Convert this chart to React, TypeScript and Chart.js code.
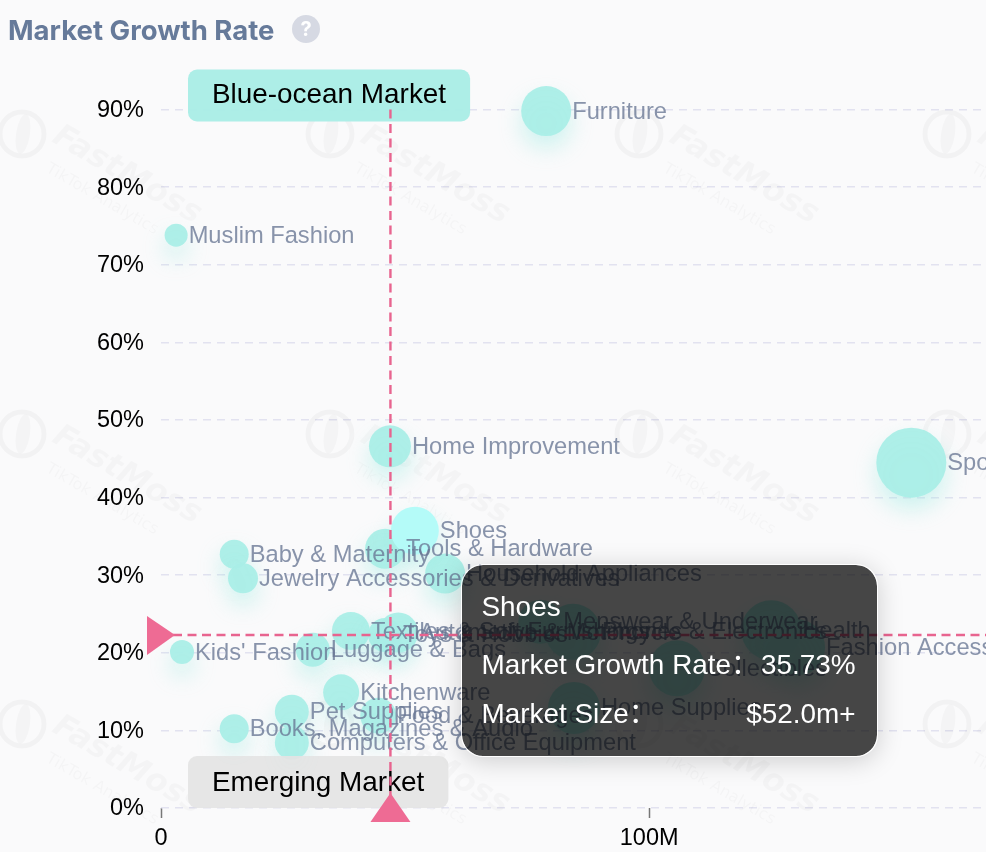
import React, { useEffect, useRef } from 'react';
import { Chart, registerables } from 'chart.js';

Chart.register(...registerables);

const categories = [
  'Furniture', 'Muslim Fashion', 'Home Improvement', 'Sports & Outdoor', 'Baby & Maternity',
  'Tools & Hardware', 'Jewelry Accessories & Derivatives', 'Household Appliances',
  'Menswear & Underwear', 'Phones & Electronics', 'Health', 'Textiles & Soft Furnishings',
  'Toys & Hobbies', 'Automotive & Motorcycle', 'Fashion Accessories', 'Luggage & Bags',
  "Kids' Fashion", 'Collectibles', 'Kitchenware', 'Pet Supplies', 'Food & Beverages',
  'Home Supplies', 'Books, Magazines & Audio', 'Computers & Office Equipment', 'Shoes',
];
const marketSize = [
  78.9, 3.1, 46.9, 153.7, 15.0, 45.9, 16.8, 58.2, 77.7, 84.4, 125.0, 38.9, 45.9, 48.6, 130.3,
  31.1, 4.3, 105.7, 36.9, 26.8, 44.5, 84.6, 15.0, 26.8, 52.0,
];
const growthRate = [
  89.8, 73.8, 46.6, 44.5, 32.7, 33.4, 29.6, 30.2, 24.0, 22.7, 22.9, 22.8, 22.3, 22.6, 20.7,
  20.4, 20.1, 18.0, 14.9, 12.4, 11.9, 12.9, 10.2, 8.4, 35.73,
];
const bubbleSize = [
  25, 11.5, 21, 35, 14.5, 20, 15, 20, 22, 28, 30, 19, 17, 20, 28, 17, 12, 28, 18, 17, 18, 26,
  14.5, 17, 24,
];

const medianSize = 47;
const medianGrowth = 22.3;
const activeName = 'Shoes';
const FONT = '"Liberation Sans", Arial, sans-serif';

const roundRect = (ctx: CanvasRenderingContext2D, x: number, y: number, w: number, h: number, r: number) => {
  ctx.beginPath();
  ctx.roundRect(x, y, w, h, r);
  ctx.fill();
};

const watermark = {
  id: 'watermark',
  beforeDatasetsDraw(chart: Chart) {
    const { ctx } = chart;
    ctx.save();
    for (const top of [108, 408, 698]) {
      for (const left of [0, 308, 617, 925]) {
        ctx.save();
        ctx.translate(left, top);
        ctx.strokeStyle = 'rgba(0,0,0,0.03)';
        ctx.fillStyle = 'rgba(0,0,0,0.025)';
        ctx.lineWidth = 5;
        ctx.beginPath();
        ctx.arc(22, 26, 22, 0, Math.PI * 2);
        ctx.stroke();
        ctx.beginPath();
        ctx.ellipse(23, 26, 7, 20, 0.15, 0, Math.PI * 2);
        ctx.fill();
        ctx.translate(55, 26);
        ctx.rotate((30 * Math.PI) / 180);
        ctx.font = `italic bold 32px "DejaVu Sans", sans-serif`;
        ctx.textBaseline = 'middle';
        ctx.textAlign = 'left';
        ctx.fillText('FastMoss', 0, 0);
        ctx.font = `16px "DejaVu Sans", sans-serif`;
        ctx.fillText('TikTok Analytics', 10, 33);
        ctx.restore();
      }
    }
    ctx.restore();
  },
};

const bubbleGlow = {
  id: 'bubbleGlow',
  beforeDatasetsDraw(chart: Chart) {
    const { ctx } = chart;
    ctx.save();
    ctx.shadowColor = 'rgba(150,235,225,0.45)';
    ctx.shadowBlur = 22;
    ctx.shadowOffsetY = 12;
  },
  afterDatasetsDraw(chart: Chart) {
    chart.ctx.restore();
  },
};

const overlays = {
  id: 'overlays',
  afterDatasetsDraw(chart: Chart) {
    const { ctx, scales, chartArea } = chart;
    const mx = scales.x.getPixelForValue(medianSize);
    const my = scales.y.getPixelForValue(medianGrowth);

    ctx.save();
    // quadrant tags
    ctx.font = `27.9px ${FONT}`;
    ctx.textBaseline = 'middle';
    ctx.textAlign = 'left';
    const tagLeft = chartArea.left + 27;
    const topTag = 'Blue-ocean Market';
    const bottomTag = 'Emerging Market';
    ctx.fillStyle = 'rgba(170,237,230,0.96)';
    roundRect(ctx, tagLeft, chartArea.top - 40, ctx.measureText(topTag).width + 48, 52, 9);
    ctx.fillStyle = 'rgba(228,228,228,0.92)';
    roundRect(ctx, tagLeft, chartArea.bottom - 52, ctx.measureText(bottomTag).width + 48, 52, 9);
    ctx.fillStyle = '#000';
    ctx.fillText(topTag, tagLeft + 24, chartArea.top - 14);
    ctx.fillText(bottomTag, tagLeft + 24, chartArea.bottom - 25);

    // point labels
    const meta = chart.getDatasetMeta(0);
    ctx.font = `23.7px ${FONT}`;
    ctx.fillStyle = 'rgba(104,118,148,0.78)';
    meta.data.forEach((el: any, i: number) => {
      ctx.fillText(categories[i], el.x + bubbleSize[i] + 1, el.y + 1);
    });

    // median cross
    ctx.strokeStyle = '#e8648f';
    ctx.lineWidth = 2.4;
    ctx.setLineDash([9, 5.5]);
    ctx.beginPath();
    ctx.moveTo(mx, chartArea.top);
    ctx.lineTo(mx, chartArea.bottom - 10);
    ctx.moveTo(chartArea.left + 12, my);
    ctx.lineTo(chartArea.right, my);
    ctx.stroke();
    ctx.setLineDash([]);

    ctx.fillStyle = '#ee6b94';
    ctx.beginPath();
    ctx.moveTo(chartArea.left - 14, my - 19);
    ctx.lineTo(chartArea.left + 14, my);
    ctx.lineTo(chartArea.left - 14, my + 20);
    ctx.closePath();
    ctx.fill();
    ctx.beginPath();
    ctx.moveTo(mx, chartArea.bottom - 15);
    ctx.lineTo(mx + 20, chartArea.bottom + 14);
    ctx.lineTo(mx - 20, chartArea.bottom + 14);
    ctx.closePath();
    ctx.fill();
    ctx.restore();
  },
};

export default function App() {
  const canvasRef = useRef<HTMLCanvasElement>(null);
  const activeIndex = categories.indexOf(activeName);

  useEffect(() => {
    if (!canvasRef.current) return;
    const chart = new Chart(canvasRef.current, {
      type: 'bubble',
      data: {
        datasets: [{
          label: 'Market Growth Rate',
          data: categories.map((_, i) => ({ x: marketSize[i], y: growthRate[i], r: bubbleSize[i] })),
          backgroundColor: categories.map((_, i) => (i === activeIndex ? '#b4fbf8' : 'rgba(170,238,231,0.95)')),
          borderWidth: 0,
          clip: false,
        }],
      },
      options: {
        responsive: false,
        animation: false,
        events: [],
        // autoPadding would shrink the plot by the biggest bubble's radius
        layout: { autoPadding: false, padding: { top: 109.5, right: 0, left: 0, bottom: 0 } },
        plugins: { legend: { display: false }, tooltip: { enabled: false } },
        scales: {
          x: {
            type: 'linear',
            min: 0,
            max: 169,
            grid: { drawOnChartArea: false, drawTicks: true, tickLength: 10, tickColor: '#777', tickWidth: 1.5 },
            border: { display: false },
            ticks: {
              stepSize: 100,
              includeBounds: false,
              padding: 6,
              maxRotation: 0,
              color: '#000',
              font: { family: FONT, size: 23.5 },
              callback: (v: any) => (v === 0 ? '0' : `${v}M`),
            },
            afterFit: (s: any) => { s.height = 44; s.paddingRight = 0; s.paddingLeft = 0; },
          },
          y: {
            type: 'linear',
            min: 0,
            max: 90,
            grid: { color: '#e2e2f0', lineWidth: 1.6, drawTicks: false },
            border: { display: false, dash: [8, 6] },
            ticks: {
              stepSize: 10,
              padding: 17,
              labelOffset: 1,
              color: '#000',
              font: { family: FONT, size: 23.5 },
              callback: (v: any) => `${v}%`,
            },
            afterFit: (s: any) => { s.width = 161; s.paddingTop = 0; s.paddingBottom = 0; },
          },
        },
      },
      plugins: [watermark, bubbleGlow, overlays],
    } as any);
    return () => chart.destroy();
  }, []);

  const rowStyle: React.CSSProperties = {
    position: 'absolute', left: 20, right: 21, display: 'flex', justifyContent: 'space-between',
    lineHeight: '32px', whiteSpace: 'nowrap',
  };

  return (
    <div style={{ position: 'relative', width: 986, height: 852, overflow: 'hidden', background: '#fafafb' }}>
      <style>{'body{margin:0;overflow:hidden}'}</style>
      <canvas ref={canvasRef} width={986} height={852} style={{ position: 'absolute', left: 0, top: 0 }} />
      <div style={{ position: 'absolute', left: 8, top: 13, font: '700 27.5px Inter, sans-serif', color: '#667a9a', lineHeight: '34px', whiteSpace: 'nowrap' }}>
        Market Growth Rate
      </div>
      <div style={{ position: 'absolute', left: 292, top: 15, width: 28, height: 28, borderRadius: 14, background: '#d6d9e3', color: '#fff', font: '700 20px Inter, sans-serif', lineHeight: '28px', textAlign: 'center' }}>
        ?
      </div>
      <div style={{ position: 'absolute', left: 460.5, top: 563.5, width: 415, height: 191, borderRadius: 22, border: '1.5px solid rgba(255,255,255,0.85)', background: 'rgba(0,0,0,0.72)', backgroundClip: 'padding-box', boxShadow: '0 4px 26px rgba(0,0,0,0.18)', color: '#fff', font: `27.9px "Liberation Sans", "Noto Sans CJK SC", sans-serif` }}>
        <div style={{ ...rowStyle, top: 26 }}><span>{categories[activeIndex]}</span></div>
        <div style={{ ...rowStyle, top: 84 }}><span>Market Growth Rate：</span><span>{growthRate[activeIndex].toFixed(2)}%</span></div>
        <div style={{ ...rowStyle, top: 133 }}><span>Market Size：</span><span>${marketSize[activeIndex].toFixed(1)}m+</span></div>
      </div>
    </div>
  );
}
